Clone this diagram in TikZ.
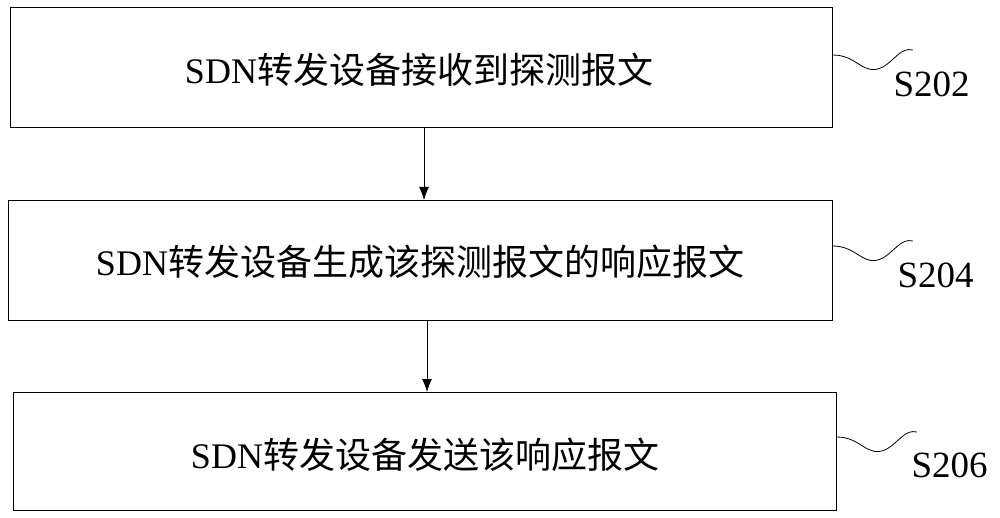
\documentclass[tikz,border=0pt]{standalone}
\usetikzlibrary{arrows.meta,calc}
\usepackage{fontspec}
\setmainfont{Liberation Serif}
\newfontfamily\cjk{Noto Sans CJK SC}
\begin{document}
\begin{tikzpicture}[x=1pt,y=-1pt,
 box/.style={draw,line width=0.9pt,minimum height=120pt,anchor=north west,inner sep=0},
 txt/.style={font=\fontsize{36}{40}\selectfont},
 lab/.style={font=\fontsize{37}{40}\selectfont,anchor=west},
 arr/.style={-{Latex[length=13pt,width=10pt]},line width=0.8pt},
 sq/.style={line width=0.8pt}]
\useasboundingbox (0,0) rectangle (1000,518);
\node[box,minimum width=822pt] (b1) at (10,7) {};
\node[txt] (t1) at (419,70) {SDN{\cjk 转发设备接收到探测报文}};
\node[box,minimum width=824pt] (b2) at (8,200) {};
\node[txt] (t2) at (420,262) {SDN{\cjk 转发设备生成该探测报文的响应报文}};
\node[box,minimum width=823pt,minimum height=118pt] (b3) at (13,392) {};
\node[txt] (t3) at (425,455) {SDN{\cjk 转发设备发送该响应报文}};
\draw[arr] (b1.south -| 424,0) -- (b2.north -| 424,0);
\draw[arr] (b2.south -| 427,0) -- (b3.north -| 427,0);
\node[lab] (l1) at (890,84) {S202};
\node[lab] (l2) at (894,275) {S204};
\node[lab] (l3) at (908,465) {S206};
\foreach \b/\y/\l in {b1/55/l1,b2/246/l2,b3/437/l3}{
 \coordinate (s) at (\b.east |- 0,\y);
 \draw[sq] (s) .. controls ($(s)+(25,0)$) and ($(s)+(30,22)$) .. ($(s)+(50,12)$)
   .. controls ($(s)+(62,5)$) and ($(s)+(68,-8)$) .. ($(s)+(80,-5)$);
}
\end{tikzpicture}
\end{document}
